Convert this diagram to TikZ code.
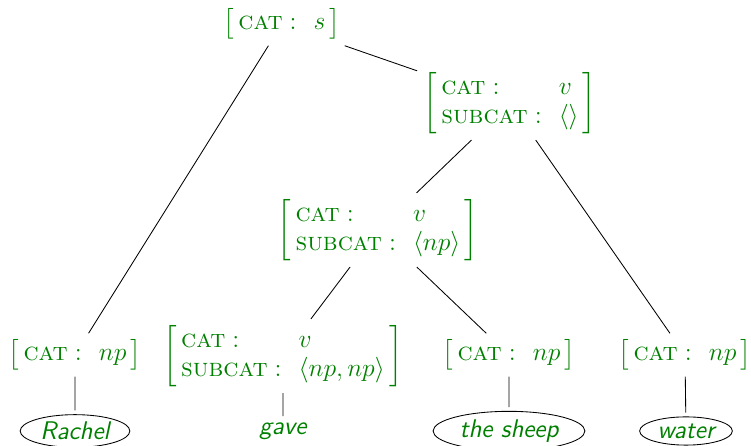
\documentclass[tikz,border=0pt]{standalone}
\usepackage{amsfonts}
\usepackage{amsmath}
\usepackage{color}
\usepackage{tikz}
\usetikzlibrary{shapes.geometric}

\definecolor{fsgreen}{RGB}{0,128,0}
\newcommand{\fscat}[1]{$\left[\begin{array}{@{\hspace{2pt}}l@{\hspace{8pt}}l@{\hspace{2pt}}}
  \text{\textsc{cat}}: & #1 \end{array}\right]$}
\newcommand{\fssub}[2]{$\left[\begin{array}{@{\hspace{2pt}}l@{\hspace{8pt}}l@{\hspace{2pt}}}
  \text{\textsc{cat}}: & #1 \\ \text{\textsc{subcat}}: & #2 \end{array}\right]$}

\begin{document}
\begin{tikzpicture}
  [x=0.4695pt,y=-0.4695pt,
   every node/.style={text=fsgreen,outer sep=2pt,inner sep=1pt,font=\large},
   leaf/.style={font=\large\sffamily\itshape},
   word/.style={leaf,shape=ellipse,draw=black,inner xsep=2pt,inner ysep=1.2pt}]
\useasboundingbox (0,0) rectangle (751,446);
\node (s)      at (282,24)  {\fscat{s}};
\node (vbar)   at (510,103) {\fssub{v}{\langle\rangle}};
\node (vp)     at (378,230) {\fssub{v}{\langle np\rangle}};
\node (np1)    at (75,355)  {\fscat{np}};
\node (v)      at (283,356) {\fssub{v}{\langle np,np\rangle}};
\node (np2)    at (509,355) {\fscat{np}};
\node (np3)    at (685,355) {\fscat{np}};
\node [word] (rachel) at (75,431)  {Rachel};
\node [leaf] (gave)   at (283,431) {gave};
\node [word] (sheep)  at (509,431) {the sheep};
\node [word] (water)  at (686,431) {water};

\draw (s) -- (np1)   (s) -- (vbar)
      (vbar) -- (vp) (vbar) -- (np3)
      (vp) -- (v)    (vp) -- (np2) ;
\draw (np1) -- (rachel) (v) -- (gave)
      (np2) -- (sheep)  (np3) -- (water) ;
\end{tikzpicture}
\end{document}
